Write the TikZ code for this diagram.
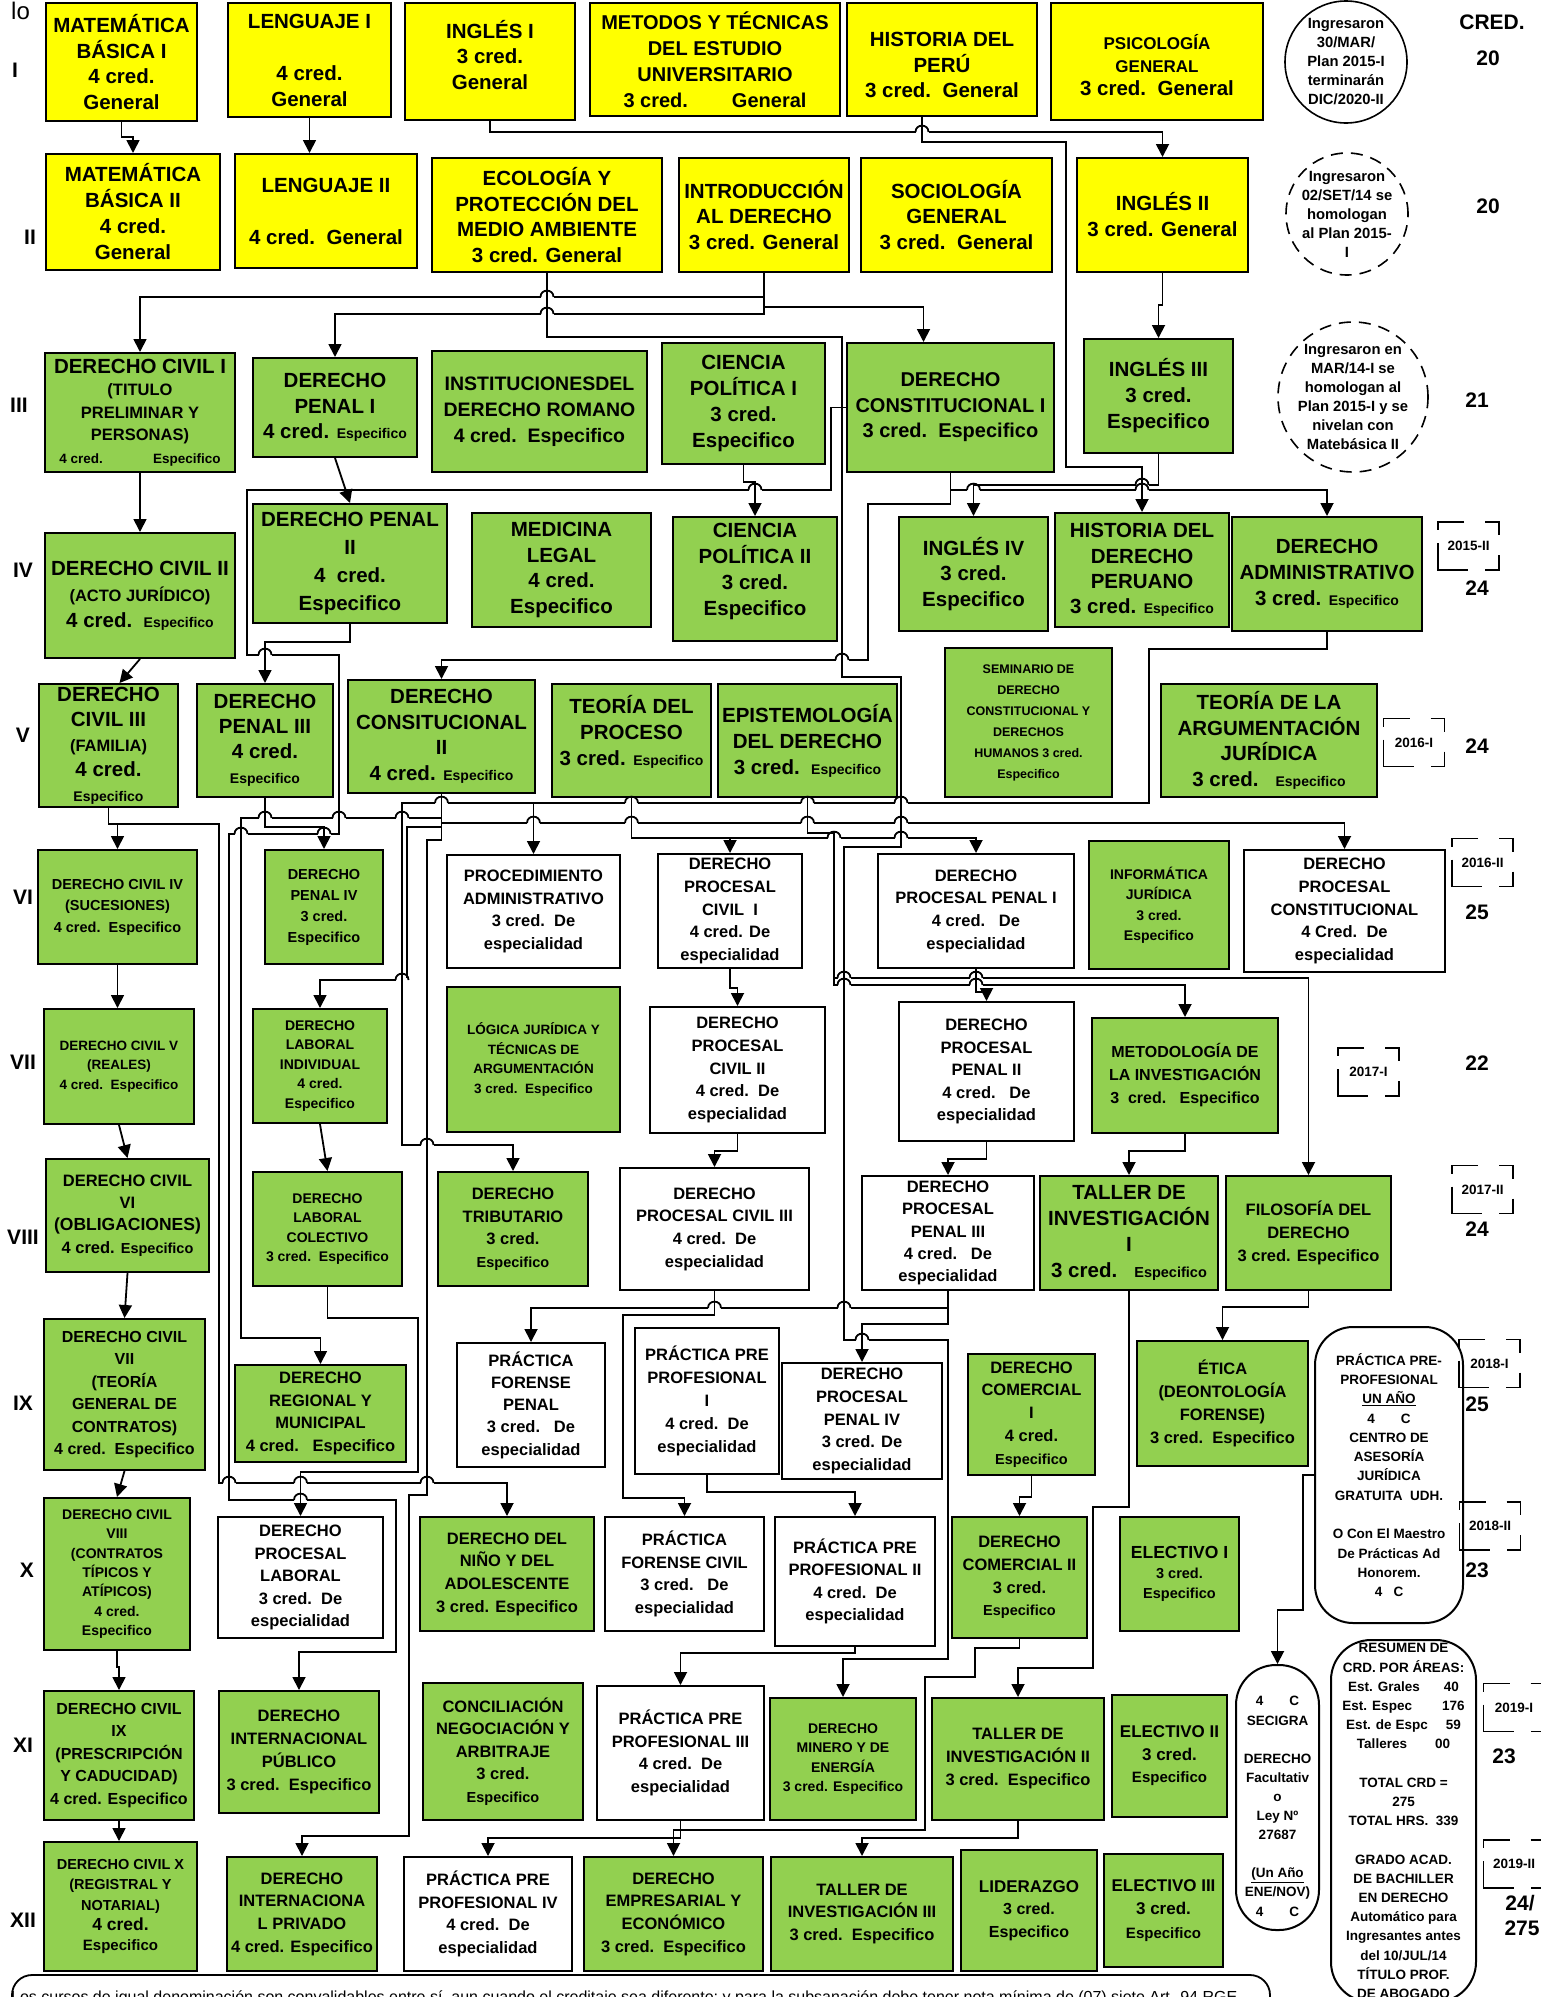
\documentclass[tikz,border=0pt]{standalone}
\usepackage{fontspec}
\setmainfont{Liberation Sans}
\usetikzlibrary{arrows.meta}
\definecolor{yl}{HTML}{FFFF00}
\definecolor{gr}{HTML}{92D050}
\newcommand\fsz[2]{\fontsize{#1}{#2}\selectfont}
\newcommand\mkbox[8]{%
  \node[#6, font={\bfseries#7}, minimum width={#4-#2}, minimum height={#5-#3}]
    (#1) at ({(#2+#4)/2},{(#3+#5)/2}) {#8};}
\newcommand\hop[2]{%
  \fill[white] ({#1-6.5},{#2-1.8}) rectangle ({#1+6.5},{#2+1.8});
  \draw[ln] ({#1},{#2-3}) -- ({#1},{#2+3});
  \draw[ln] ({#1-6.5},{#2}) .. controls ({#1-6.5},{#2-8.5}) and ({#1+6.5},{#2-8.5}) .. ({#1+6.5},{#2});}
\newcommand\tagbox[4]{%
  \node[tagt] (#1) at (#2,#3) {#4};
  \draw[tagl] ({#2-30.5+26},{#3-24}) -- ({#2-30.5},{#3-24}) -- ({#2-30.5},{#3-24+8});
  \draw[tagl] ({#2+30.5-14},{#3-24}) -- ({#2+30.5},{#3-24}) -- ({#2+30.5},{#3-24+13});
  \draw[tagl] ({#2+30.5},{#3+24-15}) -- ({#2+30.5},{#3+24}) -- ({#2+30.5-14},{#3+24});
  \draw[tagl] ({#2-30.5},{#3+24-27}) -- ({#2-30.5},{#3+24}) -- ({#2-30.5+30},{#3+24});}
\begin{document}
\begin{tikzpicture}[x=1pt,y=-1pt,
  box/.style={draw, line width=2pt, inner sep=1pt, align=center},
  Y/.style={box, fill=yl}, G/.style={box, fill=gr}, W/.style={box, fill=white},
  ln/.style={line width=1.8pt},
  ar/.style={ln, -{Triangle[width=13pt,length=13pt]}},
  rom/.style={font=\bfseries\fsz{21}{21}, inner sep=0pt},
  num/.style={font=\bfseries\fsz{21}{21}, inner sep=0pt},
  tagt/.style={inner sep=0pt, font=\bfseries\fsz{13.5}{14}},
  tagl/.style={line width=1.8pt},
  rnd/.style={draw, line width=2pt, fill=white, align=center, inner sep=1pt, rounded corners=38pt},
  cir/.style={align=center, font=\bfseries\fsz{14.8}{19}, inner sep=0pt}]
\fill[white] (0,0) rectangle (1541,1997);
\useasboundingbox (0,0) rectangle (1541,1997);

% ---------- Row I
\mkbox{MB1}{46}{3}{197}{121}{Y}{\fsz{20.5}{25.5}}{MATEMÁTICA\\BÁSICA I\\4 cred.\\General}
\mkbox{LEN1}{228}{3}{391}{117}{Y}{\fsz{20.5}{26}}{LENGUAJE I\\\mbox{}\\4 cred.\\General}
\mkbox{ING1}{405}{3}{575}{120}{Y}{\fsz{20.5}{25.5}}{INGLÉS I\\3 cred.\\General\\[-12pt]\mbox{}}
\mkbox{MET}{590}{3}{840}{116}{Y}{\fsz{20}{26}}{METODOS Y TÉCNICAS\\DEL ESTUDIO\\UNIVERSITARIO\\3 cred.\hspace{2.2em}General}
\mkbox{HIS}{847}{3}{1037}{116}{Y}{\fsz{20.5}{25.5}}{\mbox{}\\HISTORIA DEL\\PERÚ\\3 cred.~~General}
\mkbox{PSI}{1051}{3}{1263}{120}{Y}{\fsz{17}{23}}{\mbox{}\\PSICOLOGÍA\\GENERAL\\\fsz{20.5}{23}3 cred.~~General}
% ---------- Row II
\mkbox{MB2}{46}{154}{220}{270}{Y}{\fsz{20.5}{26}}{MATEMÁTICA\\BÁSICA II\\4 cred.\\General}
\mkbox{LEN2}{235}{154}{417}{268}{Y}{\fsz{20.5}{26}}{LENGUAJE II\\\mbox{}\\4 cred.~~General}
\mkbox{ECO}{432}{158}{662}{272}{Y}{\fsz{20.5}{25.5}}{ECOLOGÍA Y\\PROTECCIÓN DEL\\MEDIO AMBIENTE\\3 cred. General}
\mkbox{INTRO}{679}{158}{849}{272}{Y}{\fsz{20.5}{25.5}}{INTRODUCCIÓN\\AL DERECHO\\3 cred. General}
\mkbox{SOC}{861}{158}{1052}{272}{Y}{\fsz{20.5}{25.5}}{SOCIOLOGÍA\\GENERAL\\3 cred.~~General}
\mkbox{ING2}{1077}{158}{1248}{272}{Y}{\fsz{20.5}{26}}{INGLÉS II\\3 cred. General}
% ---------- Row III
\mkbox{DC1}{45}{353}{235}{472}{G}{\fsz{16.5}{22.5}}{\fsz{20.5}{22}DERECHO CIVIL I\\(TITULO\\PRELIMINAR Y\\PERSONAS)\\\fsz{13.5}{22}4 cred.\hspace{50pt}Especifico}
\mkbox{DP1}{253}{358}{417}{457}{G}{\fsz{20.5}{25.5}}{DERECHO\\PENAL I\\4 cred. {\fsz{14}{14}Especifico}}
\mkbox{INST}{432}{351}{647}{472}{G}{\fsz{19.5}{26}}{INSTITUCIONESDEL\\DERECHO ROMANO\\4 cred.~~Especifico}
\mkbox{CP1}{662}{343}{825}{464}{G}{\fsz{20.5}{26}}{CIENCIA\\POLÍTICA I\\3 cred.\\Especifico}
\mkbox{DCONST1}{847}{343}{1054}{472}{G}{\fsz{20}{25.5}}{DERECHO\\CONSTITUCIONAL I\\3 cred.~~Especifico}
\mkbox{ING3}{1084}{339}{1233}{453}{G}{\fsz{20.5}{26}}{INGLÉS III\\3 cred.\\Especifico}
% ---------- Row IV
\mkbox{DC2}{45}{533}{235}{658}{G}{\fsz{16.5}{26}}{\fsz{20.5}{25}DERECHO CIVIL II\\(ACTO JURÍDICO)\\\fsz{20.5}{25}4 cred.~~{\fsz{14}{14}Especifico}}
\mkbox{DP2}{253}{504}{447}{623}{G}{\fsz{20.5}{28}}{DERECHO PENAL\\II\\4~~cred.\\Especifico}
\mkbox{MED}{472}{513}{651}{627}{G}{\fsz{20.5}{25.5}}{MEDICINA\\LEGAL\\4 cred.\\Especifico}
\mkbox{CP2}{673}{517}{837}{641}{G}{\fsz{20.5}{26}}{CIENCIA\\POLÍTICA II\\3 cred.\\Especifico\\[-6pt]\mbox{}}
\mkbox{ING4}{899}{517}{1048}{631}{G}{\fsz{20.5}{25.5}}{INGLÉS IV\\3 cred.\\Especifico}
\mkbox{HDP}{1055}{513}{1229}{627}{G}{\fsz{20.5}{25.3}}{HISTORIA DEL\\DERECHO\\PERUANO\\3 cred. {\fsz{14}{14}Especifico}}
\mkbox{DADM}{1232}{517}{1422}{631}{G}{\fsz{20.5}{26}}{DERECHO\\ADMINISTRATIVO\\3 cred. {\fsz{14}{14}Especifico}}
% ---------- Row V
\mkbox{DC3}{39}{684}{178}{807}{G}{\fsz{20.5}{25}}{DERECHO\\CIVIL III\\\fsz{16.5}{20}(FAMILIA)\\4 cred.\\\fsz{14}{14}Especifico}
\mkbox{DP3}{197}{684}{333}{797}{G}{\fsz{20.5}{25}}{DERECHO\\PENAL III\\4 cred.\\\fsz{14}{14}Especifico}
\mkbox{DCONS2}{348}{680}{535}{793}{G}{\fsz{20.5}{25.5}}{DERECHO\\CONSITUCIONAL\\II\\4 cred. {\fsz{14}{14}Especifico}}
\mkbox{TP}{552}{684}{711}{797}{G}{\fsz{20.5}{26}}{TEORÍA DEL\\PROCESO\\3 cred. {\fsz{14}{14}Especifico}\\[-6pt]\mbox{}}
\mkbox{EPI}{718}{684}{897}{797}{G}{\fsz{20.5}{26}}{EPISTEMOLOGÍA\\DEL DERECHO\\3 cred.~~{\fsz{14}{14}Especifico}}
\mkbox{SEM}{945}{648}{1112}{797}{G}{\fsz{12.5}{21}}{SEMINARIO DE\\DERECHO\\CONSTITUCIONAL Y\\DERECHOS\\HUMANOS 3 cred.\\Especifico}
\mkbox{TAJ}{1161}{684}{1377}{797}{G}{\fsz{20.5}{25.5}}{TEORÍA DE LA\\ARGUMENTACIÓN\\JURÍDICA\\3 cred.~~~{\fsz{14}{14}Especifico}}
% ---------- Row VI
\mkbox{DC4}{38}{850}{197}{964}{G}{\fsz{14.5}{21.5}}{DERECHO CIVIL IV\\(SUCESIONES)\\4 cred.~~Especifico}
\mkbox{DP4}{265}{850}{383}{964}{G}{\fsz{14.5}{21}}{DERECHO\\PENAL IV\\3 cred.\\Especifico}
\mkbox{PADM}{447}{855}{620}{968}{W}{\fsz{16.5}{22.5}}{PROCEDIMIENTO\\ADMINISTRATIVO\\3 cred.~~De\\especialidad}
\mkbox{DPC1}{658}{854}{802}{968}{W}{\fsz{16.5}{22.7}}{DERECHO\\PROCESAL\\CIVIL~~I\\4 cred. De\\especialidad}
\mkbox{DPP1}{878}{854}{1074}{968}{W}{\fsz{16.5}{22.7}}{DERECHO\\PROCESAL PENAL I\\4 cred.~~~De\\especialidad}
\mkbox{INF}{1089}{841}{1229}{969}{G}{\fsz{14}{20.5}}{INFORMÁTICA\\JURÍDICA\\3 cred.\\Especifico}
\mkbox{DPCONST}{1244}{850}{1445}{972}{W}{\fsz{16.5}{22.7}}{DERECHO\\PROCESAL\\CONSTITUCIONAL\\4 Cred.~~De\\especialidad}
% ---------- Row VII
\mkbox{DC5}{44}{1009}{194}{1124}{G}{\fsz{13.5}{19.5}}{DERECHO CIVIL V\\(REALES)\\4 cred.~~Especifico}
\mkbox{DLI}{253}{1009}{387}{1123}{G}{\fsz{14}{19.5}}{DERECHO\\LABORAL\\INDIVIDUAL\\4 cred.\\Especifico}
\mkbox{LOG}{447}{987}{620}{1132}{G}{\fsz{13.5}{19.5}}{LÓGICA JURÍDICA Y\\TÉCNICAS DE\\ARGUMENTACIÓN\\3 cred.~~Especifico}
\mkbox{DPC2}{650}{1007}{825}{1133}{W}{\fsz{16.5}{22.8}}{DERECHO\\PROCESAL\\CIVIL II\\4 cred.~~De\\especialidad}
\mkbox{DPP2}{899}{1002}{1074}{1141}{W}{\fsz{16.5}{22.5}}{DERECHO\\PROCESAL\\PENAL II\\4 cred.~~~De\\especialidad}
\mkbox{MDI}{1092}{1018}{1278}{1133}{G}{\fsz{16}{23}}{METODOLOGÍA DE\\LA INVESTIGACIÓN\\3~~cred.~~~Especifico}
% ---------- Row VIII
\mkbox{DC6}{46}{1159}{209}{1272}{G}{\fsz{16.5}{22.3}}{DERECHO CIVIL\\VI\\\fsz{17.5}{22}(OBLIGACIONES)\\4 cred. {\fsz{14.5}{14}Especifico}}
\mkbox{DLC}{253}{1172}{402}{1286}{G}{\fsz{14}{19.5}}{DERECHO\\LABORAL\\COLECTIVO\\3 cred.~~Especifico}
\mkbox{TRIB}{438}{1172}{588}{1286}{G}{\fsz{16.5}{22.5}}{DERECHO\\TRIBUTARIO\\3 cred.\\\fsz{14.5}{14}Especifico}
\mkbox{DPC3}{620}{1168}{809}{1290}{W}{\fsz{16.5}{22.7}}{DERECHO\\PROCESAL CIVIL III\\4 cred.~~De\\especialidad}
\mkbox{DPP3}{862}{1176}{1034}{1290}{W}{\fsz{16.5}{22.3}}{DERECHO\\PROCESAL\\PENAL III\\4 cred.~~~De\\especialidad}
\mkbox{TI1}{1040}{1176}{1218}{1290}{G}{\fsz{20.5}{26}}{TALLER DE\\INVESTIGACIÓN\\I\\3 cred.~~~{\fsz{14.5}{14}Especifico}}
\mkbox{FIL}{1226}{1176}{1391}{1290}{G}{\fsz{16.5}{23}}{FILOSOFÍA DEL\\DERECHO\\3 cred. Especifico}
% ---------- Row IX
\mkbox{DC7}{44}{1319}{205}{1470}{G}{\fsz{16}{22.5}}{DERECHO CIVIL\\VII\\(TEORÍA\\GENERAL DE\\CONTRATOS)\\4 cred.~~Especifico}
\mkbox{DRM}{235}{1365}{406}{1462}{G}{\fsz{16.5}{22.5}}{DERECHO\\REGIONAL Y\\MUNICIPAL\\4 cred.~~~Especifico}
\mkbox{PFP}{457}{1343}{605}{1467}{W}{\fsz{16.5}{22.3}}{PRÁCTICA\\FORENSE\\PENAL\\3 cred.~~~De\\especialidad}
\mkbox{PPP1}{635}{1328}{779}{1474}{W}{\fsz{16.5}{23}}{PRÁCTICA PRE\\PROFESIONAL\\I\\4 cred.~~De\\especialidad}
\mkbox{DPP4}{782}{1363}{942}{1479}{W}{\fsz{16.5}{22.7}}{DERECHO\\PROCESAL\\PENAL IV\\3 cred. De\\especialidad}
\mkbox{DCOM1}{968}{1354}{1095}{1475}{G}{\fsz{16.5}{22.8}}{DERECHO\\COMERCIAL\\I\\4 cred.\\\fsz{14.5}{14}Especifico}
\mkbox{ETI}{1137}{1341}{1308}{1466}{G}{\fsz{16.5}{23}}{ÉTICA\\(DEONTOLOGÍA\\FORENSE)\\3 cred.~~Especifico}
\node[rnd, minimum width=148, minimum height=296, font=\bfseries\fsz{13.5}{19.3}] (UNANO) at (1389,1475)
  {PRÁCTICA PRE-\\PROFESIONAL\\\underline{UN AÑO}\\4\hspace{26pt}C\\CENTRO DE\\ASESORÍA\\JURÍDICA\\GRATUITA~~UDH.\\\mbox{}\\O Con El Maestro\\De Prácticas Ad\\Honorem.\\4~~~C};
% ---------- Row X
\mkbox{DC8}{44}{1498}{190}{1650}{G}{\fsz{14}{19.3}}{DERECHO CIVIL\\VIII\\(CONTRATOS\\TÍPICOS Y\\ATÍPICOS)\\4 cred.\\Especifico}
\mkbox{DPL}{218}{1517}{383}{1638}{W}{\fsz{16.5}{22.5}}{DERECHO\\PROCESAL\\LABORAL\\3 cred.~~De\\especialidad}
\mkbox{DNA}{420}{1517}{594}{1631}{G}{\fsz{16.5}{22.7}}{DERECHO DEL\\NIÑO Y DEL\\ADOLESCENTE\\3 cred. Especifico}
\mkbox{PFC}{605}{1517}{764}{1631}{W}{\fsz{16.5}{22.7}}{PRÁCTICA\\FORENSE CIVIL\\3 cred.~~~De\\especialidad}
\mkbox{PPP2}{775}{1517}{935}{1646}{W}{\fsz{16.5}{22.5}}{PRÁCTICA PRE\\PROFESIONAL II\\4 cred.~~De\\especialidad}
\mkbox{DCOM2}{952}{1517}{1087}{1638}{G}{\fsz{16.5}{22.7}}{DERECHO\\COMERCIAL II\\3 cred.\\\fsz{14.5}{14}Especifico}
\mkbox{EL1}{1120}{1517}{1239}{1631}{G}{\fsz{14.5}{20}}{\fsz{17.5}{20}ELECTIVO I\\3 cred.\\Especifico}
% ---------- Row XI
\mkbox{DC9}{44}{1691}{194}{1820}{G}{\fsz{16}{22.5}}{DERECHO CIVIL\\IX\\(PRESCRIPCIÓN\\Y CADUCIDAD)\\4 cred. Especifico}
\mkbox{DIP}{219}{1691}{379}{1813}{G}{\fsz{16.5}{23}}{DERECHO\\INTERNACIONAL\\PÚBLICO\\3 cred.~~Especifico}
\mkbox{CNA}{423}{1683}{583}{1820}{G}{\fsz{16.5}{22.5}}{CONCILIACIÓN\\NEGOCIACIÓN Y\\ARBITRAJE\\3 cred.\\\fsz{14.5}{14}Especifico}
\mkbox{PPP3}{597}{1686}{764}{1820}{W}{\fsz{16.5}{22.5}}{PRÁCTICA PRE\\PROFESIONAL III\\4 cred.~~De\\especialidad}
\mkbox{DME}{770}{1698}{916}{1820}{G}{\fsz{14}{19.3}}{DERECHO\\MINERO Y DE\\ENERGÍA\\3 cred. Especifico}
\mkbox{TI2}{932}{1698}{1104}{1820}{G}{\fsz{16.5}{23}}{TALLER DE\\INVESTIGACIÓN II\\3 cred.~~Especifico}
\mkbox{EL2}{1112}{1695}{1227}{1817}{G}{\fsz{17}{22.5}}{ELECTIVO II\\3 cred.\\\fsz{15}{15}Especifico}
\node[rnd, rounded corners=40pt, minimum width=83, minimum height=265, font=\bfseries\fsz{13.5}{19.1}] (SEC) at (1277.5,1797.5)
  {\mbox{}\\[8pt]4\hspace{26pt}C\\SECIGRA\\\mbox{}\\DERECHO\\Facultativ\\o\\Ley Nº\\27687\\\mbox{}\\\underline{(Un Año}\\ENE/NOV)\\4\hspace{26pt}C};
\node[rnd, rounded corners=40pt, minimum width=145, minimum height=362, font=\bfseries\fsz{13.5}{19.2}] (RES) at (1403.5,1821)
  {RESUMEN DE\\CRD. POR ÁREAS:\\Est. Grales\hspace{24pt}40\\Est. Espec\hspace{30pt}176\\Est. de Espc\hspace{18pt}59\\Talleres\hspace{28pt}00\\\mbox{}\\TOTAL CRD =\\275\\TOTAL HRS.~~339\\\mbox{}\\GRADO ACAD.\\DE BACHILLER\\EN DERECHO\\Automático para\\Ingresantes antes\\del 10/JUL/14\\TÍTULO PROF.\\DE ABOGADO};
% ---------- Row XII
\mkbox{DC10}{44}{1842}{197}{1971}{G}{\fsz{14.5}{20.3}}{DERECHO CIVIL X\\(REGISTRAL Y\\NOTARIAL)\\\fsz{17.5}{20}4 cred.\\\fsz{15}{15}Especifico}
\mkbox{DIPR}{227}{1857}{377}{1971}{G}{\fsz{16.5}{22.7}}{DERECHO\\INTERNACIONA\\L PRIVADO\\4 cred. Especifico}
\mkbox{PPP4}{404}{1857}{572}{1971}{W}{\fsz{16.5}{22.7}}{PRÁCTICA PRE\\PROFESIONAL IV\\4 cred.~~De\\especialidad}
\mkbox{DEE}{584}{1857}{763}{1971}{G}{\fsz{16.5}{22.7}}{DERECHO\\EMPRESARIAL Y\\ECONÓMICO\\3 cred.~~Especifico}
\mkbox{TI3}{771}{1857}{953}{1971}{G}{\fsz{16.5}{22.5}}{TALLER DE\\INVESTIGACIÓN III\\3 cred.~~Especifico}
\mkbox{LID}{961}{1850}{1097}{1971}{G}{\fsz{16}{22.5}}{\fsz{17}{21}LIDERAZGO\\3 cred.\\Especifico}
\mkbox{EL3}{1104}{1854}{1223}{1967}{G}{\fsz{17}{23.5}}{ELECTIVO III\\3 cred.\\\fsz{15}{15}Especifico}

% ---------- side labels
\node[anchor=base west, font=\fsz{24}{24}, inner sep=0pt] (lo) at (11,19) {lo};
\node[rom] (r1) at (15,70) {I};
\node[rom] (r2) at (30,237) {II};
\node[rom] (r3) at (19,405) {III};
\node[rom] (r4) at (23,570) {IV};
\node[rom] (r5) at (23,735) {V};
\node[rom] (r6) at (23,897) {VI};
\node[rom] (r7) at (23,1062) {VII};
\node[rom] (r8) at (23,1237) {VIII};
\node[rom] (r9) at (23,1403) {IX};
\node[rom] (r10) at (27,1570) {X};
\node[rom] (r11) at (23,1745) {XI};
\node[rom] (r12) at (23,1920) {XII};

\node[num] (cred) at (1492,22) {CRED.};
\node[num] (n1) at (1488,58) {20};
\node[num] (n2) at (1488,206) {20};
\node[num] (n3) at (1477,400) {21};
\node[num] (n4) at (1477,588) {24};
\node[num] (n5) at (1477,746) {24};
\node[num] (n6) at (1477,912) {25};
\node[num] (n7) at (1477,1063) {22};
\node[num] (n8) at (1477,1229) {24};
\node[num] (n9) at (1477,1404) {25};
\node[num] (n10) at (1477,1570) {23};
\node[num] (n11) at (1504,1756) {23};
\node[num] (n12) at (1520,1903) {24/};
\node[num] (n13) at (1522,1928) {275};

\tagbox{t1}{1468.5}{546}{2015-II}
\tagbox{t2}{1414}{742.5}{2016-I}
\tagbox{t3}{1482.5}{862.5}{2016-II}
\tagbox{t4}{1368.5}{1072}{2017-I}
\tagbox{t5}{1482.5}{1189.5}{2017-II}
\tagbox{t6}{1489.5}{1363.5}{2018-I}
\tagbox{t7}{1490}{1526}{2018-II}
\tagbox{t8}{1514}{1707.5}{2019-I}
\tagbox{t9}{1514}{1864}{2019-II}

\node[cir] (c1) at (1346,62) {Ingresaron\\30/MAR/\\Plan 2015-I\\terminarán\\DIC/2020-II};
\draw[line width=1.6pt] (c1.center) circle[radius=61pt];
\node[cir] (c2) at (1347,214) {Ingresaron\\02/SET/14 se\\homologan\\al Plan 2015-\\I};
\draw[line width=1.6pt, dash pattern=on 12pt off 8pt] (c2.center) circle[radius=61pt];
\node[cir] (c3) at (1353,397) {Ingresaron en\\MAR/14-I se\\homologan al\\Plan 2015-I y se\\nivelan con\\Matebásica II};
\draw[line width=1.6pt, dash pattern=on 12pt off 8pt] (c3.center) circle[radius=75pt];

% footer
\draw[line width=1.8pt, rounded corners=20pt] (12,2045) -- (12,1975) -- (1270,1975) -- (1270,2045);
\node[anchor=base west, font=\fsz{16}{16}, inner sep=0pt] (note) at (11,2002) {Los cursos de igual denominación son convalidables entre sí, aun cuando el creditaje sea diferente; y para la subsanación debe tener nota mínima de (07) siete Art. 94 RGE};

% ---------- connectors
\draw[ar] (MB1.south) -- (121.5,137) -- (133,137) -- (MB2.north);
\draw[ar] (LEN1.south) -- (LEN1.south |- LEN2.north);
\draw[ar] (ING1.south) -- (490,132) -| (ING2.north);
\draw[ar] ([xshift=-20pt]HIS.south) -- (922,142) -- (1066,142) -- (1066,467) -| (HDP.north);
\draw[ar] (ING2.south) -- (1162.5,305) -- (1158.5,305) -- (ING3.north);
\draw[ar] (INTRO.south) -- (764,297) -| (DC1.north);
\draw[ar] (INTRO.south) -- (764,314) -| (DP1.north);
\draw[ar] (INTRO.south) -- (764,307) -| ([xshift=-27pt]DCONST1.north);
\draw[ar] (ECO.south) -- (547,337) -- (842,337) -- (842,677) -- (901,677) -- (901,847) -- (844,847) -- (844,1340) -- (948,1340) -- (948,1659) -| (DME.north);
\draw[ar] (DCONST1.south) -- (950.5,504) -- (868,504) -- (868,660) -| (DCONS2.north);
\draw[ar] (DCONST1.south) -- (950.5,490) -| (DADM.north);
\draw[ar] (ING3.south) -- (1158.5,485) -| (ING4.north);
\draw[ar] (CP1.south) -- (743.5,482) -| (CP2.north);
\draw[ar] (DCONST1.west) -- (831,407.5) -- (831,490) -- (247,490) -- (247,655) -- (339,655) -- (339,834) -- (229,834) -- (229,1500) -- (396,1500) -- (396,1652) -| (DIP.north);
\draw[ar] (DP1.south) -- (DP2.north);
\draw[ar] (DC1.south) -- (DC2.north);
\draw[ar] (DC2.south) -- ([xshift=11pt]DC3.north);
\draw[ar] (DP2.south) -- (350,642) -| (DP3.north);
\draw[ar] (DC3.south) -- (108.5,824) -| (DC4.north);
\draw[ar] (DC3.south) -- (108.5,824) -- (219,824) -- (219,1483) -| (DNA.north);
\draw[ar] (DADM.south) -- (1327,649) -- (1149,649) -- (1149,803) -| (PADM.north);
\draw[ar] (DADM.south) -- (1327,649) -- (1149,649) -- (1149,803) -- (402,803) -- (402,1145) -| (TRIB.north);
\draw[ar] (DCONS2.south) -- (441.5,823) -| (DPCONST.north);
\draw[ar] (DCONS2.south) -- (441.5,818) -- (241,818) -- (241,1338) -| (DRM.north);
\draw[ar] (DCONS2.south) -- (441.5,827) -- (407,827) -- (407,980) -| (DLI.north);
\draw[ar] (DCONS2.south) -- (441.5,840) -- (427,840) -- (427,1495) -- (409,1495) -- (409,1836) -| (DIPR.north);
\draw[ar] (DP3.south) -- (265,827) -| (DP4.north);
\draw[ar] (TP.south) -- (631.5,838) -| (DPC1.north);
\draw[ar] (TP.south) -- (631.5,838) -| (DPP1.north);
\draw[ar] (EPI.south) -- (807.5,833) -- (834,833) -- (834,978) -| (FIL.north);
\draw[ar] (EPI.south) -- (807.5,833) -- (834,833) -- (834,985) -| (MDI.north);
\draw[ar] (DC4.south) -- (DC4.south |- DC5.north);
\draw[ar] (DPC1.south) -- (730,988) -| (DPC2.north);
\draw[ar] (DPP1.south) -- (976,992) -| (DPP2.north);
\draw[ar] (DC5.south) -- (DC6.north);
\draw[ar] (DLI.south) -- (DLC.north);
\draw[ar] (DPC2.south) -- (737.5,1151) -| (DPC3.north);
\draw[ar] (DPP2.south) -- (986.5,1159) -| (DPP3.north);
\draw[ar] (MDI.south) -- (1185,1151) -| (TI1.north);
\draw[ar] (DC6.south) -- (DC7.north);
\draw[ar] (DLC.south) -- (327.5,1318) -- (418,1318) -- (418,1472) -| (DPL.north);
\draw[ar] (DPC3.south) -- (714.5,1315) -- (623,1315) -- (623,1498) -| (PFC.north);
\draw[ar] (DPP3.south) -- (948,1308) -| (PFP.north);
\draw[ar] (DPP3.south) -- (948,1324) -| (DPP4.north);
\draw[ar] (PPP1.south) -- (707,1492) -| (PPP2.north);
\draw[ar] (DCOM1.south) -- (1031.5,1497) -| (DCOM2.north);
\draw[ar] (FIL.south) -- (1308.5,1307) -| (ETI.north);
\draw[ar] (DC7.south) -- (DC8.north);
\draw[ar] (TI1.south) -- (1129,1507) -- (1093,1507) -- (1093,1668) -| (TI2.north);
\draw[ar] (UNANO.west) -- (1303,1475) -- (1303,1610) -| (SEC.north);
\draw[ar] (DC8.south) -- (117,1667) -| (DC9.north);
\draw[ar] (PPP2.south) -- (855,1653) -| (PPP3.north);
\draw[ar] (DCOM2.south) -- (1019.5,1648) -- (975,1648) -- (975,1677) -- (925,1677) -- (925,1830) -| (DEE.north);
\draw[ar] (TI2.south) -- (1018,1838) -| (TI3.north);
\draw[ar] (PPP3.south) -- (680.5,1838) -| (PPP4.north);
\draw[ar] (DC9.south) -- (DC9.south |- DC10.north);

% ---------- line hops
\hop{922}{132}
\hop{547}{297}
\hop{547}{314}
\hop{755}{490}
\hop{1142}{485}
\hop{1142}{490}
\hop{973.5}{490}
\hop{842}{660}
\hop{265}{655}
\hop{901}{803}\hop{807.5}{803}\hop{631.5}{803}\hop{441.5}{803}
\hop{533.5}{823}\hop{631.5}{823}\hop{807.5}{823}\hop{901}{823}
\hop{402}{818}\hop{339}{818}\hop{265}{818}
\hop{834}{838}\hop{901}{838}
\hop{324}{834}\hop{241}{834}
\hop{844}{978}\hop{976}{978}
\hop{844}{985}\hop{976}{985}
\hop{427}{1145}
\hop{402}{980}
\hop{844}{1308}\hop{714.5}{1308}
\hop{862}{1340}
\hop{229}{1483}\hop{300.5}{1483}\hop{427}{1483}
\hop{300.5}{1500}
\end{tikzpicture}
\end{document}
